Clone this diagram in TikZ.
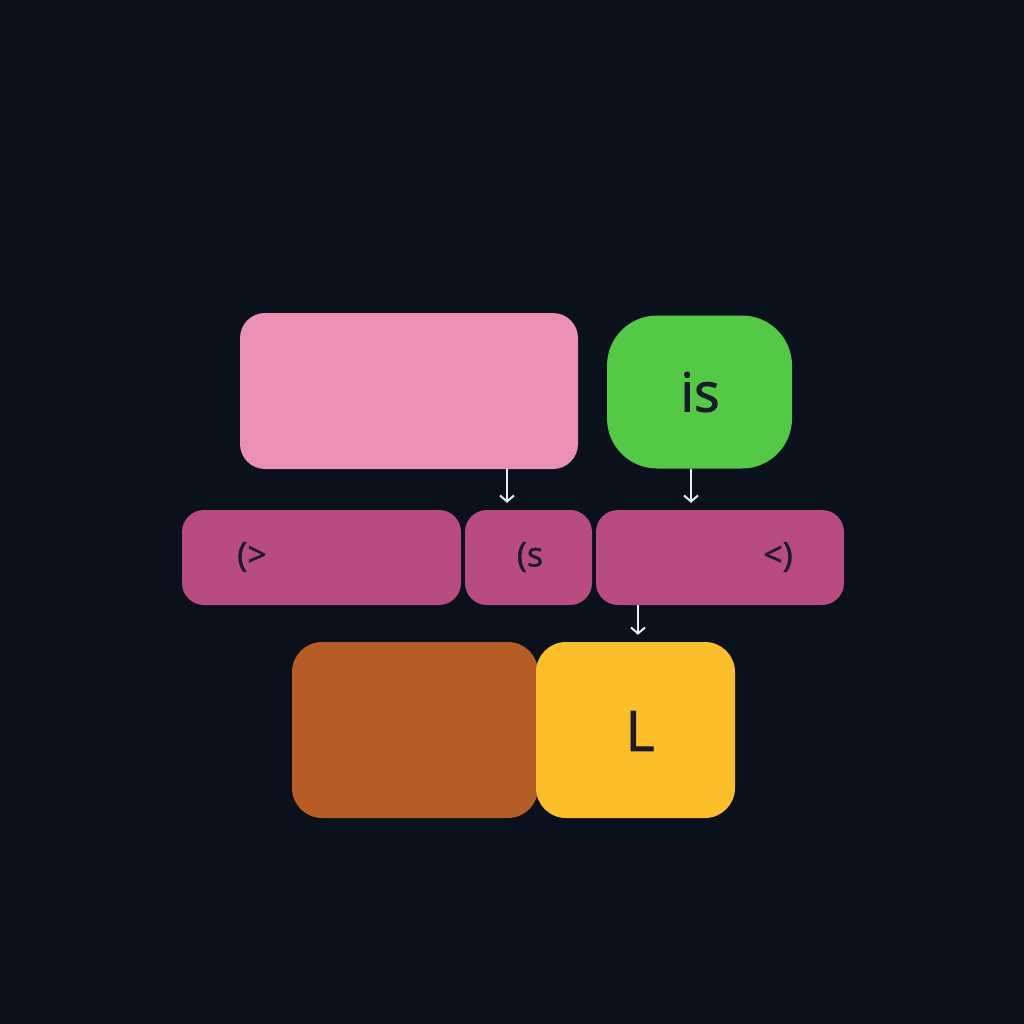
\documentclass[tikz,border=0pt]{standalone}
\usepackage{fontspec}
\setmainfont{Open Sans}
\usetikzlibrary{arrows.meta}
\definecolor{bg}{HTML}{0A101C}
\definecolor{pinkc}{HTML}{E990B4}
\definecolor{greenc}{HTML}{54C945}
\definecolor{magc}{HTML}{B84B7F}
\definecolor{orangec}{HTML}{B55C27}
\definecolor{yellowc}{HTML}{FCBF2B}
\definecolor{txt}{HTML}{1A1A28}
\definecolor{arrc}{HTML}{ECECF2}
\begin{document}
\begin{tikzpicture}[x=1pt,y=-1pt,
  boxnode/.style={rectangle,inner sep=0pt,draw=none},
  lbl/.style={inner sep=0pt,text=txt},
  arr/.style={draw=arrc,line width=2pt,-{Straight Barb[length=6pt,width=14pt]},shorten >=7pt}]
\useasboundingbox[fill=bg] (0,0) rectangle (1024,1024);
\node[boxnode,fill=pinkc,rounded corners=25pt,minimum width=338pt,minimum height=156pt] (pink) at (409,391) {};
\node[boxnode,fill=greenc,rounded corners=50pt,minimum width=185pt,minimum height=153pt] (green) at (699.5,392) {};
\node[lbl,font=\fontsize{54}{60}\selectfont\addfontfeature{FakeBold=1.6}] (gl) at (700,392) {is};
\node[boxnode,fill=magc,rounded corners=22pt,minimum width=279pt,minimum height=95pt] (m1) at (321.5,557.5) {};
\node[boxnode,fill=magc,rounded corners=22pt,minimum width=127pt,minimum height=95pt] (m2) at (528.5,557.5) {};
\node[boxnode,fill=magc,rounded corners=22pt,minimum width=248pt,minimum height=95pt] (m3) at (720,557.5) {};
\node[lbl,font=\fontsize{34}{40}\selectfont\addfontfeature{FakeBold=1.2}] (l1) at (252,557) {(>};
\node[lbl,font=\fontsize{34}{40}\selectfont\addfontfeature{FakeBold=1.2}] (l2) at (530,557) {(s};
\node[lbl,font=\fontsize{34}{40}\selectfont\addfontfeature{FakeBold=1.2}] (l3) at (778,557) {<)};
\node[boxnode,fill=orangec,rounded corners=30pt,minimum width=246pt,minimum height=176pt] (orange) at (415,730) {};
\node[boxnode,fill=yellowc,rounded corners=30pt,minimum width=199pt,minimum height=176pt] (yellow) at (635.5,730) {};
\node[lbl,font=\fontsize{56}{60}\selectfont\addfontfeature{FakeBold=1.6}] (yl) at (640,731) {L};
\coordinate (c1) at (507,0);
\coordinate (c2) at (691,0);
\coordinate (c3) at (638,0);
\draw[arr] (pink.south -| c1) -- (m2.north -| c1);
\draw[arr] (green.south -| c2) -- (m3.north -| c2);
\draw[arr] (m3.south -| c3) -- (yellow.north -| c3);
\end{tikzpicture}
\end{document}
